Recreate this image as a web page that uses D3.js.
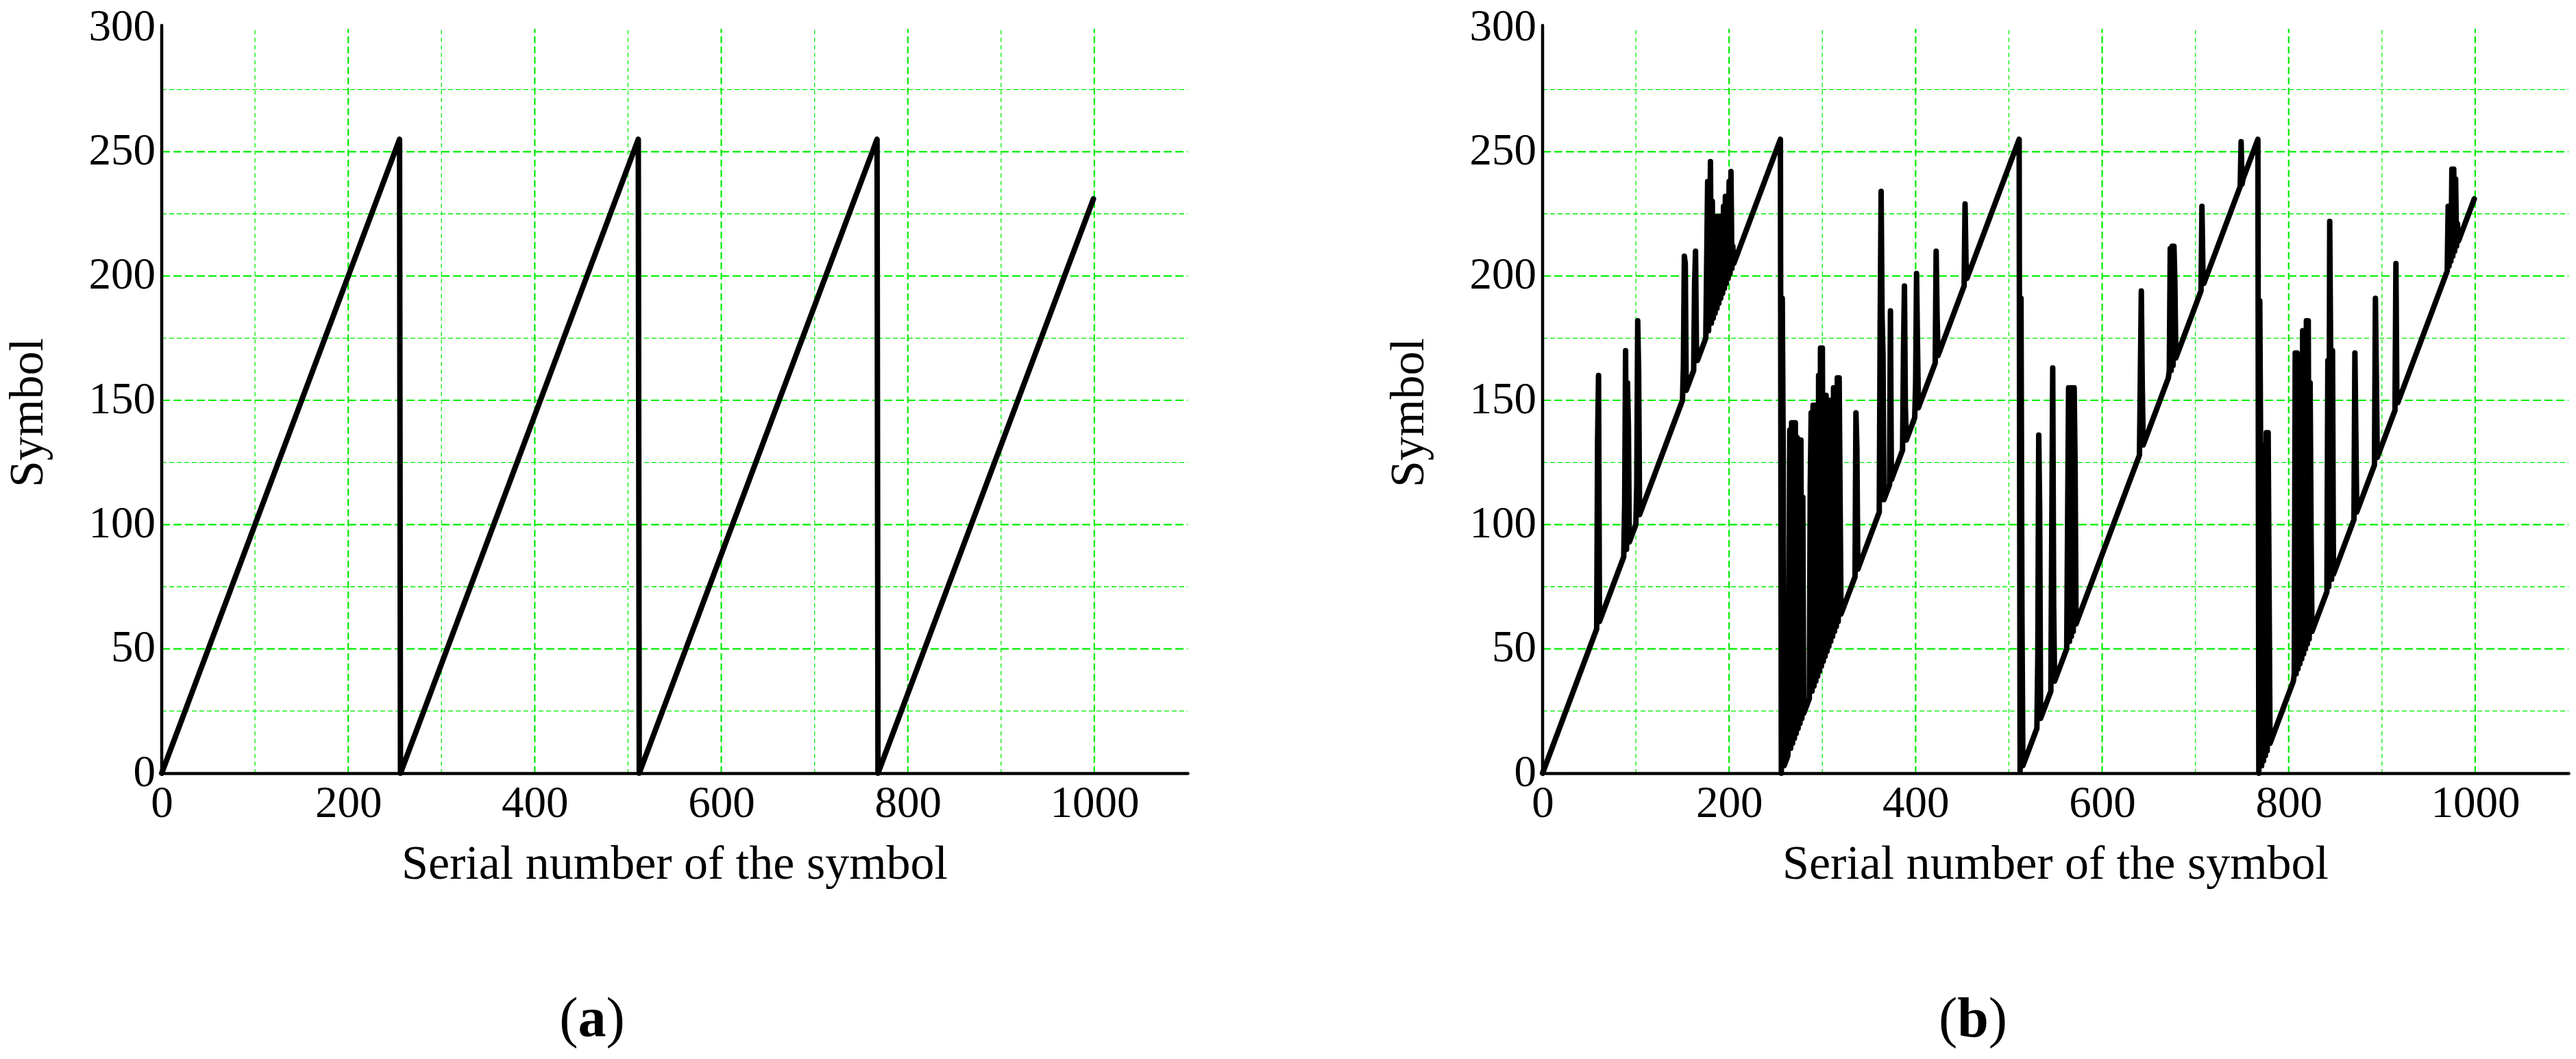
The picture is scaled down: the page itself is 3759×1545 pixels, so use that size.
<!DOCTYPE html>
<html><head><meta charset="utf-8">
<script src="https://cdn.jsdelivr.net/npm/d3@7"></script>
<style>body{margin:0;background:#fff}svg{display:block}</style></head>
<body><svg id="c" width="3759" height="1545"></svg>
<script>
// ---- data ----
const xTickValues = [0, 200, 400, 600, 800, 1000];
const yTickValues = [0, 50, 100, 150, 200, 250, 300];
const xMajorGrid = [200, 400, 600, 800, 1000];
const xMinorGrid = [100, 300, 500, 700, 900];
const yMajorGrid = [50, 100, 150, 200, 250];
const yMinorGrid = [25, 75, 125, 175, 225, 275];
const xTitle = "Serial number of the symbol";
const yTitle = "Symbol";
const panelLabels = ["a", "b"];

// (a) symbol sequence: sawtooth corners
const seriesA = [[0,0],[255,255],[256,0],[511,255],[512,0],[767,255],[768,0],[999,231]];

// (b) symbol sequence: sawtooth with spikes
const seriesB = [
 [0,0],
 [58,58],[59,134],[60,160],[61,61],
 [87,87],[88,108],[89,170],[90,90],[91,157],[92,140],[93,93],
 [100,100],[101,116],[102,182],[103,161],[104,104],
 [150,150],[151,164],[152,208],[153,205],[154,154],
 [162,162],[163,197],[164,210],[165,170],[166,166],
 [175,175],[176,207],[177,238],[178,178],[179,200],[180,246],[181,181],[182,230],[183,183],[184,224],[185,185],[186,224],[187,187],[188,224],[189,189],[190,224],[191,191],[192,224],[193,193],[194,228],[195,195],[196,232],[197,197],[198,232],[199,199],[200,238],[201,201],[202,242],[203,203],[204,212],[205,205],
 [255,255],[256,0],[257,191],[258,128],[259,3],
 [263,7],[264,40],[265,138],[266,10],[267,141],[268,12],[269,141],[270,14],[271,141],[272,16],[273,135],[274,18],[275,134],[276,20],[277,134],[278,22],[279,111],[280,24],
 [286,30],[287,115],[288,145],[289,33],[290,148],[291,35],[292,148],[293,37],[294,148],[295,39],[296,160],[297,41],[298,171],[299,43],[300,171],[301,45],[302,152],[303,47],[304,152],[305,49],[306,150],[307,51],[308,150],[309,53],[310,150],[311,55],[312,155],[313,57],[314,155],[315,59],[316,159],[317,61],[318,159],[319,110],[320,64],
 [335,79],[336,145],[337,131],[338,82],
 [361,105],[362,182],[363,234],[364,184],[365,168],[366,110],
 [372,116],[373,186],[374,118],
 [386,130],[387,170],[388,196],[389,147],[390,134],
 [399,143],[400,157],[401,201],[402,172],[403,147],
 [421,165],[422,210],[423,184],[424,168],
 [452,196],[453,229],[454,206],[455,199],
 [511,255],[512,1],[513,191],[514,64],[515,3],
 [530,18],[531,46],[532,136],[533,106],[534,22],
 [545,33],[546,98],[547,163],[548,67],[549,37],
 [562,50],[563,103],[564,155],[565,53],[566,155],[567,55],[568,155],[569,57],[570,155],[571,123],[572,60],
 [640,128],[641,161],[642,194],[643,156],[644,132],
 [671,159],[672,162],[673,211],[674,162],[675,212],[676,164],[677,212],[678,197],[679,167],
 [706,194],[707,228],[708,203],[709,197],
 [748,236],[749,254],[750,237],[751,239],
 [767,255],[768,0],[769,190],[770,127],[771,3],[772,132],[773,5],[774,132],[775,7],[776,137],[777,9],[778,137],[779,73],[780,12],
 [805,37],[806,40],[807,169],[808,40],[809,169],[810,42],[811,151],[812,44],[813,151],[814,46],[815,178],[816,48],[817,178],[818,50],[819,182],[820,52],[821,182],[822,54],[823,157],[824,97],[825,57],
 [841,73],[842,166],[843,75],[844,222],[845,170],[846,78],[847,170],[848,80],
 [870,102],[871,169],[872,137],[873,105],
 [892,124],[893,191],[894,160],[895,127],
 [914,146],[915,205],[916,150],[917,149],
 [970,202],[971,228],[972,204],[973,228],[974,206],[975,243],[976,208],[977,243],[978,210],[979,239],[980,212],[981,221],[982,214],
 [999,231]
];

// ---- layout ----
const W = 3759, H = 1545;
const plotTop = 40, plotBottom = 1128, plotW = 1497;
const panels = [
  {left: 236, data: seriesA, label: panelLabels[0], labelX: 864},
  {left: 2251, data: seriesB, label: panelLabels[1], labelX: 2879}
];
const FONT = "'Liberation Serif','Times New Roman',serif";
const GREEN = "#00ee00";

const svg = d3.select("#c");
svg.append("rect").attr("width", W).attr("height", H).attr("fill", "#fff");

panels.forEach(p => {
  const x = d3.scaleLinear().domain([0, 1100]).range([0, plotW]);
  const y = d3.scaleLinear().domain([0, 300]).range([plotBottom - plotTop, 0]);
  const g = svg.append("g").attr("transform", `translate(${p.left},${plotTop})`);
  const h = plotBottom - plotTop;

  // grid
  const grid = g.append("g");
  grid.selectAll(".vmin").data(xMinorGrid).join("line")
    .attr("x1", d => x(d)).attr("x2", d => x(d)).attr("y1", h).attr("y2", 2)
    .attr("stroke", GREEN).attr("stroke-width", 1.3).attr("stroke-dasharray", "6,5");
  grid.selectAll(".vmaj").data(xMajorGrid).join("line")
    .attr("x1", d => x(d)).attr("x2", d => x(d)).attr("y1", h).attr("y2", 2)
    .attr("stroke", GREEN).attr("stroke-width", 2.2).attr("stroke-dasharray", "10,5");
  grid.selectAll(".hmin").data(yMinorGrid).join("line")
    .attr("x1", 0).attr("x2", plotW).attr("y1", d => y(d)).attr("y2", d => y(d))
    .attr("stroke", GREEN).attr("stroke-width", 1.3).attr("stroke-dasharray", "7,4");
  grid.selectAll(".hmaj").data(yMajorGrid).join("line")
    .attr("x1", 0).attr("x2", plotW).attr("y1", d => y(d)).attr("y2", d => y(d))
    .attr("stroke", GREEN).attr("stroke-width", 2.2).attr("stroke-dasharray", "12,5");

  // data line
  const line = d3.line().x(d => x(d[0])).y(d => y(d[1]));
  g.append("path").datum(p.data).attr("d", line)
    .attr("fill", "none").attr("stroke", "#000").attr("stroke-width", 8)
    .attr("stroke-linejoin", "round").attr("stroke-linecap", "round");

  // axes
  const xAxis = d3.axisBottom(x).tickValues(xTickValues).tickSize(0).tickPadding(18).tickFormat(d3.format("d"));
  const yAxis = d3.axisLeft(y).tickValues(yTickValues).tickSize(0).tickPadding(9).tickFormat(d3.format("d"));
  const gx = g.append("g").attr("transform", `translate(0,${h})`).call(xAxis);
  const gy = g.append("g").call(yAxis);
  [gx, gy].forEach(a => {
    a.select(".domain").attr("stroke", "#000").attr("stroke-width", 4.5).attr("stroke-linecap", "round");
    a.selectAll("text").attr("font-family", FONT).attr("font-size", 65).attr("fill", "#000");
  });
  gy.selectAll("text").attr("dy", "0.28em");
  gy.select(".domain").attr("d", `M0,${h}V-3`);

  // titles
  g.append("text").attr("x", x(550)).attr("y", 1282 - plotTop)
    .attr("text-anchor", "middle").attr("font-family", FONT).attr("font-size", 70).text(xTitle);
  svg.append("text").attr("transform", `translate(${p.left - 174},602) rotate(-90)`)
    .attr("text-anchor", "middle").attr("font-family", FONT).attr("font-size", 70).text(yTitle);

  // sub-figure label
  const t = svg.append("text").attr("x", p.labelX).attr("y", 1512)
    .attr("text-anchor", "middle").attr("font-family", FONT).attr("font-size", 82);
  t.append("tspan").text("(");
  t.append("tspan").attr("font-weight", "bold").text(p.label);
  t.append("tspan").text(")");
});
</script></body></html>
